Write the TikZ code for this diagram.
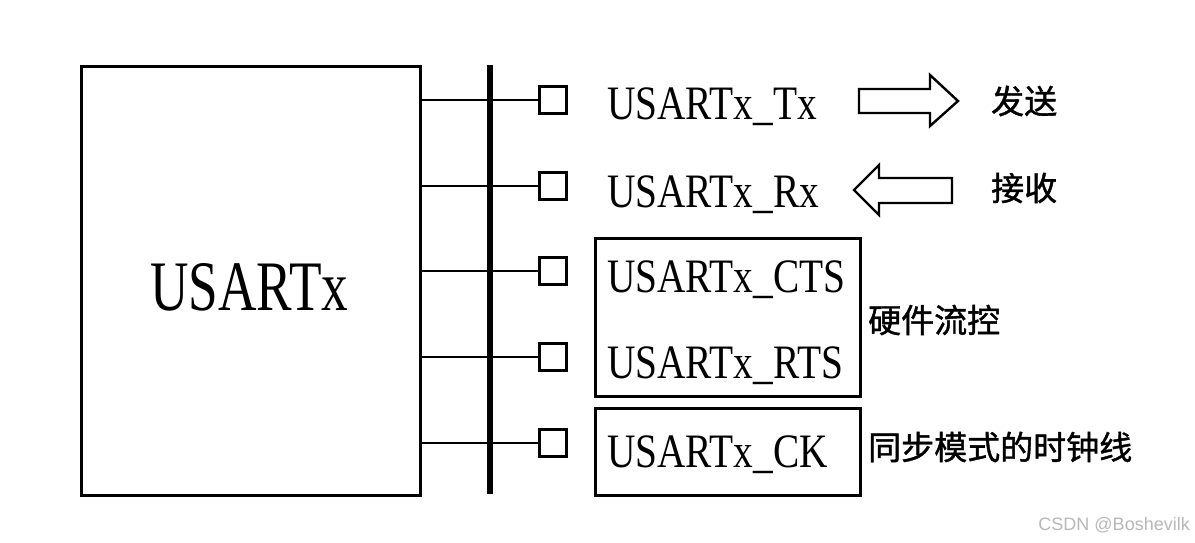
\documentclass[tikz,border=0pt]{standalone}
\usepackage{fontspec}
\newfontfamily\labfont[FakeStretch=0.82]{Liberation Serif}
\newfontfamily\bigfont[FakeStretch=0.75]{Liberation Serif}
\newfontfamily\cjk[FakeBold=1.2]{Noto Sans CJK SC}
\newfontfamily\wmfont{Liberation Sans}
\begin{document}
\begin{tikzpicture}[x=1pt,y=-1pt,
  wire/.style={line width=2.6pt},
  pin/.style={draw,line width=2.2pt,minimum size=27pt,inner sep=0pt,fill=white},
  sig/.style={anchor=base west,inner sep=0pt,font=\labfont\fontsize{48}{50}\selectfont},
  cn/.style={anchor=west,inner sep=0pt,font=\cjk\fontsize{33}{35}\selectfont},
  grp/.style={draw,line width=2.6pt,anchor=north west,inner sep=0pt},
  hollow/.style={draw,line width=2.4pt,line join=miter,fill=white}]
\useasboundingbox[fill=white] (0,0) rectangle (1195,543);
% main block
\node[draw,line width=2.8pt,anchor=north west,inner sep=0pt,minimum width=339pt,minimum height=429pt] (box) at (80,65) {};
\node[anchor=base west,inner sep=0pt,font=\bigfont\fontsize{71}{73}\selectfont] (name) at (150,310) {USARTx};
% bus
\coordinate (bustop) at (490,65);
\coordinate (busbot) at (490,494);
\draw[line width=6pt] (bustop) -- (busbot);
% pins
\node[pin] (p1) at (553,100) {};
\node[pin] (p2) at (553,186) {};
\node[pin] (p3) at (553,271) {};
\node[pin] (p4) at (553,357) {};
\node[pin] (p5) at (553,443) {};
\foreach \p in {p1,p2,p3,p4,p5}{
  \draw[wire] (box.east |- \p) -- (\p.west);
}
% signal labels
\node[sig] (tx) at (607,120) {USARTx\_Tx};
\node[sig] (rx) at (607,207) {USARTx\_Rx};
\node[sig] (cts) at (607,292) {USARTx\_CTS};
\node[sig] (rts) at (607,378) {USARTx\_RTS};
\node[sig] (ck) at (607,467) {USARTx\_CK};
% group boxes
\node[grp,minimum width=265pt,minimum height=158pt] (g1) at (594,237) {};
\node[grp,minimum width=265pt,minimum height=87pt] (g2) at (594,407) {};
% hollow arrows
\draw[hollow] (859,89) -- (930,89) -- (930,75) -- (958,101) -- (930,126) -- (930,113) -- (859,113) -- cycle;
\draw[hollow] (952,178) -- (879,178) -- (879,165) -- (854,190) -- (879,215) -- (879,203) -- (952,203) -- cycle;
% chinese labels
\node[cn] (send) at (991,101) {发送};
\node[cn] (recv) at (991,188) {接收};
\node[cn] (hw) at (868,320) {硬件流控};
\node[cn] (clk) at (868,447) {同步模式的时钟线};
% watermark
\node[anchor=base east,inner sep=0pt,text=black!28,font=\wmfont\fontsize{18}{20}\selectfont] (wm) at (1190,530) {CSDN @Boshevilk};
\end{tikzpicture}
\end{document}
